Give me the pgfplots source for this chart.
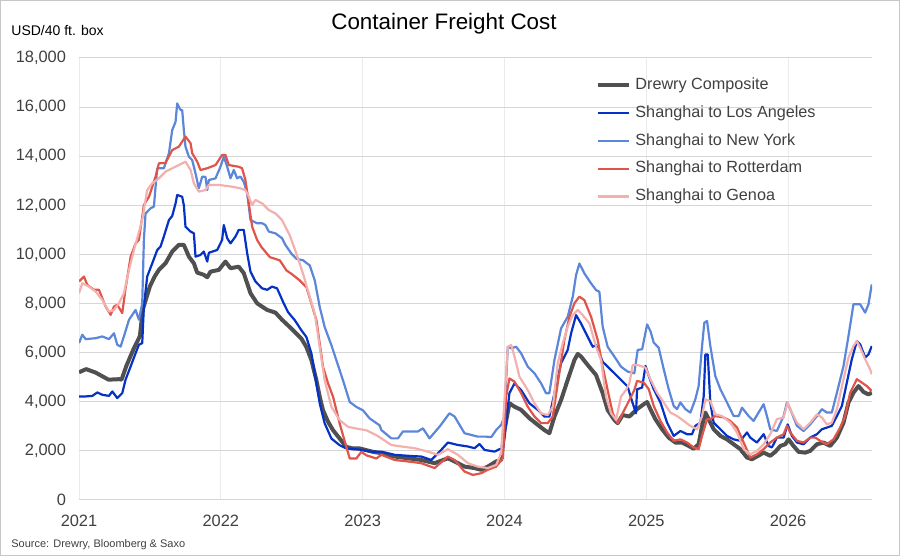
\documentclass[border=0pt]{standalone}
\usepackage{fontspec}
\setmainfont{Liberation Sans}
\usepackage{pgfplots}
\pgfplotsset{compat=1.18}
\definecolor{cComp}{HTML}{505050}
\definecolor{cLA}{HTML}{0532C4}
\definecolor{cNY}{HTML}{5B86D9}
\definecolor{cRot}{HTML}{E0554A}
\definecolor{cGen}{HTML}{F2B1AE}
\definecolor{cTxt}{HTML}{404040}
\begin{document}
\begin{tikzpicture}
\useasboundingbox (0pt,0pt) rectangle (450pt,278pt);
\draw[line width=0.6pt, color=black!22] (0.3pt,0.3pt) rectangle (449.7pt,277.7pt);
\node[anchor=center, font=\fontsize{11.2}{13}\selectfont, text=black] at (222pt,266pt) {Container Freight Cost};
\node[anchor=west, inner sep=0pt, font=\fontsize{7}{8}\selectfont, text=black] at (5.5pt,262.5pt) {USD/40 ft. box};
\node[anchor=west, inner sep=0pt, font=\fontsize{5.5}{6.5}\selectfont, text=cTxt] at (5.5pt,5.5pt) {Source: Drewry, Bloomberg \& Saxo};
\begin{axis}[
  at={(39.5pt,28pt)}, anchor=south west,
  scale only axis, width=396.5pt, height=221pt,
  xmin=0, xmax=67.1, ymin=0, ymax=18000,
  xtick={0,12,24,36,48,60},
  xticklabels={2021,2022,2023,2024,2025,2026},
  ytick={0,2000,4000,6000,8000,10000,12000,14000,16000,18000},
  scaled y ticks=false,
  axis line style={draw=none},
  major tick length=0pt,
  xmajorgrids, ymajorgrids,
  every axis y grid/.style={color=black!16, line width=0.5pt},
  every axis x grid/.style={color=black!8, line width=0.5pt},
  extra y ticks={0}, extra y tick labels={},
  extra y tick style={grid style={color=black!25, line width=0.6pt}},
  /pgf/number format/assume math mode=true,
  /pgf/number format/1000 sep={,},
  ticklabel style={font=\fontsize{8.2}{9}\selectfont, text=cTxt},
  yticklabel style={xshift=-3pt},
  xticklabel style={yshift=-4pt},
  legend style={at={(0.652,0.966)}, anchor=north west, draw=none, fill=none,
    font=\fontsize{8.1}{9.2}\selectfont, text=cTxt, row sep=2.6pt, inner sep=0pt},
  legend cell align=left,
  legend image code/.code={\draw[#1] (0pt,0pt) -- (15.5pt,0pt);},
  every axis plot/.append style={line join=round},
]
\addplot[color=cComp, line width=2pt] coordinates {
(0,5200)(0.6,5330)(1.4,5190)(2.5,4900)(3.4,4920)(3.6,4900)(4.0,5450)(4.6,6130)(5.15,6670)(5.4,7760)(6.0,8700)(6.4,9100)(6.76,9370)(7.32,9640)(7.89,10120)(8.45,10390)(8.87,10390)(9.3,9910)(9.72,9640)(10.0,9260)(10.56,9170)(10.85,9070)(11.13,9300)(11.83,9370)(12.39,9710)(12.82,9440)(13.52,9500)(13.94,9240)(14.51,8420)(15.07,8010)(15.92,7740)(16.62,7630)(17.18,7340)(17.84,7040)(18.4,6770)(18.82,6570)(19.24,6230)(19.67,5690)(20.09,4870)(20.37,4200)(20.65,3650)(21.08,3180)(21.5,2840)(22.06,2500)(22.62,2160)(23.19,2100)(23.75,2100)(24.31,2030)(24.88,1960)(25.58,1910)(26.71,1770)(27.83,1700)(28.96,1630)(30.09,1500)(31.21,1700)(31.78,1570)(32.62,1360)(33.47,1300)(34.03,1230)(34.59,1360)(35.3,1570)(35.72,1630)(36.0,2850)(36.42,3940)(36.85,3800)(37.41,3670)(38.11,3330)(38.82,3060)(39.38,2850)(39.8,2720)(40.23,3400)(40.79,4070)(41.35,4890)(41.92,5700)(42.2,5950)(42.48,5840)(43.04,5500)(43.75,5090)(44.31,4350)(44.73,3670)(45.3,3260)(45.58,3130)(46.0,3460)(46.57,3400)(47.22,3700)(47.79,3900)(48.07,3990)(48.35,3700)(48.77,3290)(49.34,2880)(49.9,2540)(50.46,2340)(51.03,2340)(51.59,2200)(52.01,2090)(52.43,2270)(52.72,3020)(53.0,3560)(53.28,3290)(53.7,2880)(54.27,2610)(54.83,2470)(55.39,2270)(55.96,2070)(56.52,1730)(56.94,1660)(57.36,1770)(57.93,1930)(58.49,1800)(58.91,1960)(59.34,2200)(59.76,2270)(60.04,2470)(60.46,2200)(60.89,1960)(61.45,1930)(61.87,2000)(62.44,2270)(63.0,2340)(63.56,2200)(64.13,2540)(64.69,3150)(65.11,3970)(65.53,4370)(65.96,4640)(66.38,4400)(66.8,4300)(67.08,4370)
};
\addlegendentry{Drewry Composite}
\addplot[color=cLA, line width=1.1pt] coordinates {
(0,4217)(0.56,4217)(1.13,4240)(1.55,4380)(1.97,4285)(2.54,4240)(2.82,4420)(3.24,4150)(3.66,4350)(3.94,4900)(4.37,5440)(4.79,5980)(5.07,6320)(5.35,6390)(5.49,7880)(5.77,9100)(6.2,9640)(6.62,10180)(6.9,10320)(7.18,10730)(7.61,11400)(7.89,11570)(8.17,12080)(8.31,12420)(8.73,12350)(8.87,12010)(9.01,11130)(9.44,10930)(9.72,10860)(9.86,9910)(10.28,9980)(10.56,10120)(10.85,9710)(10.99,10070)(11.69,10180)(12.11,10590)(12.25,11200)(12.54,10660)(12.82,10450)(13.24,10730)(13.52,11000)(13.94,11000)(14.23,10050)(14.51,9300)(14.93,8900)(15.49,8620)(15.92,8560)(16.34,8690)(16.76,8620)(17.32,8010)(17.69,7650)(18.26,7320)(18.82,6910)(19.24,6640)(19.67,5960)(19.95,5150)(20.37,3930)(20.79,3120)(21.36,2500)(22.06,2230)(22.62,2100)(23.75,2050)(24.88,1960)(25.58,1970)(26.71,1840)(27.83,1800)(28.96,1770)(29.81,1630)(30.65,2040)(31.21,2340)(32.06,2240)(32.9,2180)(33.47,2110)(33.89,2280)(34.31,2040)(35.16,1970)(35.58,2070)(35.86,2070)(36.06,2790)(36.42,4350)(36.85,4750)(37.41,4480)(38.11,3940)(38.82,3670)(39.38,3400)(39.8,3400)(40.23,4350)(40.79,5570)(41.35,6110)(41.64,6790)(42.06,7530)(42.48,7190)(43.04,6650)(43.47,6240)(43.75,6310)(44.31,5630)(44.73,5430)(45.3,5160)(45.86,4890)(46.42,4620)(46.85,3940)(47.13,3530)(47.22,4510)(47.65,4580)(47.93,5460)(48.21,5050)(48.63,4510)(49.2,3970)(49.76,3150)(50.32,2610)(50.89,2810)(51.45,2680)(51.87,2680)(52.15,3020)(52.58,3150)(52.86,4240)(53.0,5930)(53.2,5930)(53.42,3970)(53.7,3150)(54.27,2880)(54.83,2610)(55.39,2470)(55.96,2410)(56.52,2750)(56.8,2540)(57.36,2340)(57.93,2680)(58.35,2200)(58.63,2140)(59.05,2540)(59.62,2540)(59.96,3080)(60.32,2610)(60.75,2340)(61.31,2270)(61.87,2540)(62.44,2680)(62.86,2880)(63.28,2950)(63.7,3020)(64.13,3420)(64.55,3830)(64.97,4780)(65.39,5730)(65.82,6470)(66.1,6340)(66.52,5800)(66.8,5930)(67.08,6270)
};
\addlegendentry{Shanghai to Los Angeles}
\addplot[color=cNY, line width=1.1pt] coordinates {
(0,6390)(0.28,6730)(0.56,6550)(1.41,6590)(1.97,6660)(2.54,6550)(2.96,6790)(3.24,6320)(3.52,6250)(3.8,6660)(4.23,7340)(4.79,7740)(5.07,7340)(5.35,8010)(5.49,10590)(5.63,11670)(6.06,11880)(6.34,11950)(6.48,12760)(6.62,13510)(7.18,13510)(7.61,14120)(7.89,15070)(8.17,15400)(8.31,16150)(8.59,15880)(8.73,15880)(8.87,15070)(9.01,14390)(9.3,13980)(9.58,13840)(9.86,13300)(10.14,12690)(10.42,13160)(10.7,13160)(10.85,12620)(10.99,13030)(11.55,13100)(11.97,13570)(12.25,13980)(12.54,13570)(12.82,13100)(13.1,13440)(13.38,13100)(13.66,13170)(13.94,12960)(14.23,12490)(14.51,11400)(15.07,11270)(15.49,11270)(15.77,11200)(16.06,10930)(16.62,10860)(17.18,10660)(17.46,10390)(17.98,10030)(18.4,9820)(18.96,9760)(19.53,9550)(19.95,8940)(20.37,7860)(20.79,7040)(21.36,6300)(21.78,5690)(22.34,4870)(22.91,3990)(23.47,3790)(24.03,3650)(24.6,3320)(25.44,3040)(25.58,2850)(26.43,2510)(26.99,2510)(27.41,2790)(28.12,2790)(28.68,2790)(29.1,2920)(29.66,2510)(30.51,2990)(31.35,3530)(31.78,3400)(32.62,2720)(33.19,2650)(33.75,2580)(34.45,2580)(34.88,2560)(35.3,2850)(35.72,3060)(36.0,3400)(36.28,6240)(36.57,6180)(36.99,6240)(37.41,5970)(37.97,5430)(38.54,5160)(39.1,4750)(39.52,4350)(39.8,4350)(40.23,5700)(40.79,6990)(41.35,7460)(41.78,8280)(42.06,9160)(42.34,9630)(42.76,9230)(43.33,8820)(43.75,8550)(44.03,8480)(44.31,7060)(44.73,6240)(45.3,5840)(45.86,5430)(46.42,5230)(46.99,5160)(47.27,6110)(47.65,6140)(48.07,7150)(48.35,6880)(48.63,6410)(49.05,6200)(49.48,5320)(49.9,4510)(50.32,3830)(50.6,3700)(50.89,3970)(51.31,3700)(51.73,3560)(52.15,4100)(52.43,4640)(52.72,6270)(52.91,7220)(53.14,7290)(53.42,6270)(53.84,5050)(54.27,4510)(54.83,3970)(55.39,3420)(55.82,3420)(56.1,3760)(56.66,3420)(57.08,3220)(57.5,3560)(57.93,3900)(58.21,3420)(58.49,2880)(59.05,2810)(59.62,3420)(59.9,3970)(60.18,3700)(60.75,3020)(61.31,2810)(61.87,3080)(62.44,3420)(62.86,3700)(63.28,3560)(63.7,3560)(64.13,4370)(64.69,5460)(65.11,6680)(65.53,7970)(66.1,7970)(66.52,7630)(66.8,7970)(67.08,8780)
};
\addlegendentry{Shanghai to New York}
\addplot[color=cRot, line width=1.1pt] coordinates {
(0,8900)(0.42,9100)(0.7,8760)(1.27,8560)(1.69,8560)(2.25,7880)(2.68,7540)(2.96,7880)(3.24,7950)(3.66,7610)(3.94,8620)(4.37,9910)(4.79,10450)(5.07,10590)(5.49,12010)(5.92,12350)(6.48,13170)(6.76,13710)(7.32,13730)(7.89,14250)(8.45,14390)(9.01,14800)(9.44,14530)(9.58,14120)(10.0,13780)(10.28,13440)(10.85,13510)(11.55,13640)(12.11,14050)(12.39,14050)(12.68,13640)(13.52,13570)(13.8,13510)(14.08,13030)(14.37,12080)(14.65,11130)(15.07,10590)(15.44,10300)(16.15,9890)(16.99,9760)(17.55,9350)(17.98,9210)(18.68,8940)(19.24,8670)(19.67,7990)(20.09,7320)(20.65,5420)(21.08,4740)(21.5,4200)(22.06,3110)(22.62,2160)(22.91,1690)(23.47,1690)(23.89,1960)(24.31,1820)(25.16,1690)(25.58,1840)(26.71,1630)(27.83,1570)(28.96,1500)(30.09,1300)(31.21,1770)(31.78,1630)(32.62,1160)(33.33,1020)(34.03,1090)(34.59,1230)(35.3,1360)(35.86,1700)(36.14,4210)(36.42,4950)(36.85,4820)(37.41,4350)(37.97,3800)(38.54,3400)(39.1,3130)(39.66,3130)(40.09,3400)(40.51,4750)(41.07,6520)(41.5,7460)(41.92,8010)(42.34,8280)(42.76,8140)(43.33,7460)(43.89,6520)(44.31,5430)(44.73,4480)(45.16,3530)(45.58,3130)(46.0,3530)(46.57,4070)(46.99,4480)(47.22,4850)(47.79,4780)(48.21,4510)(48.63,3830)(49.2,3220)(49.76,2750)(50.32,2410)(50.89,2470)(51.45,2340)(52.01,2140)(52.43,2070)(52.72,2610)(53.14,3290)(53.42,3290)(53.84,3420)(54.55,3360)(55.11,3220)(55.68,2950)(56.24,2340)(56.8,1730)(57.36,1860)(57.93,2070)(58.49,2340)(59.05,2540)(59.62,2680)(59.9,3020)(60.18,2750)(60.75,2410)(61.31,2340)(61.87,2540)(62.3,2540)(62.72,2410)(63.28,2270)(63.84,2470)(64.41,2950)(64.83,3420)(65.25,4370)(65.82,4920)(66.24,4780)(66.66,4640)(67.08,4440)
};
\addlegendentry{Shanghai to Rotterdam}
\addplot[color=cGen, line width=1.1pt] coordinates {
(0,8420)(0.28,8830)(0.85,8690)(1.41,8490)(1.97,8150)(2.54,7670)(2.96,7740)(3.38,8010)(3.8,8420)(4.23,9370)(4.65,10180)(5.35,11400)(5.77,12620)(6.2,12900)(6.76,13100)(7.32,13370)(7.89,13510)(8.45,13640)(9.01,13780)(9.44,13440)(9.72,12900)(10.14,12560)(10.7,12620)(10.99,12830)(11.83,12830)(12.96,12760)(13.66,12690)(14.08,12620)(14.37,12350)(14.65,12010)(14.93,12220)(15.49,12080)(16.06,11810)(16.62,11670)(17.18,11400)(17.46,11130)(17.84,10770)(18.4,10030)(18.96,9210)(19.53,8260)(19.95,7590)(20.37,6230)(20.79,4870)(21.36,3790)(22.06,3250)(22.77,2980)(23.47,2910)(24.31,2840)(25.16,2640)(25.58,2510)(26.43,2240)(27.27,2180)(28.4,2110)(29.52,1970)(30.37,1840)(31.21,2070)(32.06,1840)(32.9,1500)(33.75,1360)(34.59,1300)(35.3,1430)(35.72,1910)(36.0,4070)(36.28,6240)(36.57,6310)(36.85,5840)(37.27,5020)(37.97,4480)(38.54,3940)(39.1,3530)(39.66,3460)(40.09,3800)(40.51,5570)(40.93,6380)(41.35,7060)(41.78,7530)(42.2,7740)(42.62,7530)(43.19,7190)(43.75,6240)(44.17,5700)(44.59,4210)(45.02,3530)(45.44,3260)(45.86,4210)(46.28,4480)(46.57,4750)(46.85,5500)(47.27,5500)(47.93,5390)(48.35,4920)(48.91,4370)(49.48,3970)(50.04,3560)(50.6,3420)(51.17,3220)(51.73,3020)(52.3,2880)(52.72,3420)(53.0,4100)(53.42,4030)(53.84,3490)(54.41,3420)(55.11,3150)(55.68,2750)(56.24,2070)(56.8,1860)(57.36,2000)(57.93,2270)(58.49,2680)(59.05,3290)(59.62,3360)(59.96,3970)(60.32,3560)(60.75,3150)(61.31,2880)(61.87,3150)(62.44,3490)(62.86,3360)(63.28,3080)(63.7,3150)(64.13,3700)(64.69,4920)(65.11,5800)(65.53,6270)(65.82,6470)(66.1,6200)(66.52,5730)(66.94,5320)(67.08,5120)
};
\addlegendentry{Shanghai to Genoa}
\end{axis}
\end{tikzpicture}
\end{document}
